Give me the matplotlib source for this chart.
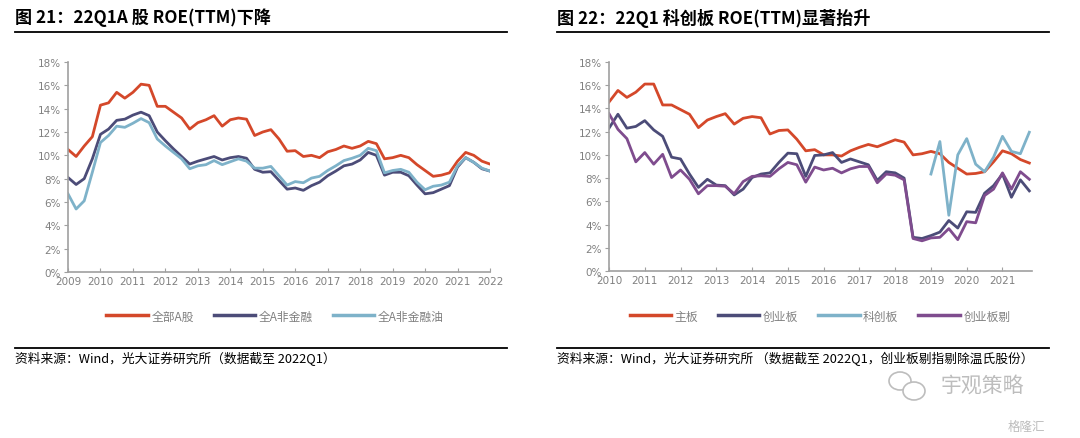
import matplotlib
matplotlib.use('Agg')
import matplotlib.pyplot as plt
from matplotlib.lines import Line2D
from matplotlib.patches import Ellipse
from matplotlib.ticker import FuncFormatter

plt.rcParams['font.family'] = ['Noto Sans CJK SC', 'DejaVu Sans']

# ---- data: chart 21, quarterly 2009Q1 - 2022Q1 ----
years_l = list(range(2009, 2023))
all_a = [10.5, 9.9, 10.8, 11.6, 14.3, 14.5, 15.4, 14.9, 15.4, 16.1, 16.0, 14.2, 14.2,
         13.7, 13.2, 12.25, 12.8, 13.05, 13.4, 12.5, 13.05, 13.2, 13.1, 11.7, 12.0,
         12.2, 11.4, 10.35, 10.4, 9.9, 10.0, 9.8, 10.3, 10.5, 10.8, 10.6, 10.8, 11.2,
         11.0, 9.7, 9.8, 10.0, 9.8, 9.2, 8.7, 8.2, 8.3, 8.5, 9.5, 10.25, 10.0, 9.5, 9.25]
non_fin = [8.1, 7.5, 8.0, 9.7, 11.8, 12.25, 13.0, 13.1, 13.45, 13.7, 13.4, 12.0, 11.25,
           10.55, 9.9, 9.25, 9.5, 9.7, 9.9, 9.6, 9.8, 9.9, 9.75, 8.8, 8.55, 8.6, 7.85,
           7.1, 7.2, 7.0, 7.4, 7.7, 8.25, 8.65, 9.1, 9.25, 9.6, 10.25, 10.0, 8.3, 8.55,
           8.55, 8.25, 7.45, 6.7, 6.8, 7.1, 7.4, 9.0, 9.8, 9.4, 8.85, 8.65]
non_fin_oil = [6.7, 5.4, 6.1, 8.55, 11.1, 11.7, 12.5, 12.4, 12.75, 13.15, 12.8, 11.4,
               10.8, 10.25, 9.7, 8.85, 9.1, 9.2, 9.55, 9.2, 9.45, 9.7, 9.5, 8.9, 8.9,
               9.05, 8.25, 7.45, 7.75, 7.65, 8.05, 8.2, 8.7, 9.1, 9.55, 9.75, 10.0, 10.6,
               10.4, 8.5, 8.7, 8.8, 8.55, 7.7, 7.05, 7.35, 7.45, 7.7, 9.1, 9.8, 9.4, 8.9, 8.65]

# ---- data: chart 22, quarterly 2010Q1 - 2021Q4 ----
years_r = list(range(2010, 2022))
main_board = [14.55, 15.55, 14.95, 15.4, 16.1, 16.1, 14.3, 14.3, 13.9, 13.5, 12.35, 13.0,
              13.3, 13.55, 12.65, 13.15, 13.3, 13.2, 11.8, 12.1, 12.15, 11.35, 10.35, 10.45,
              10.0, 10.0, 9.9, 10.35, 10.65, 10.9, 10.7, 11.0, 11.3, 11.1, 10.0, 10.1,
              10.3, 10.1, 9.35, 8.85, 8.35, 8.4, 8.55, 9.4, 10.35, 10.1, 9.6, 9.3]
gem = [12.3, 13.5, 12.3, 12.45, 12.95, 12.15, 11.6, 9.8, 9.65, 8.35, 7.2, 7.9, 7.4, 7.35,
       6.55, 7.05, 8.05, 8.35, 8.45, 9.35, 10.15, 10.1, 8.15, 9.95, 10.0, 10.2, 9.35, 9.65,
       9.4, 9.15, 7.8, 8.55, 8.45, 8.0, 2.9, 2.8, 3.05, 3.35, 4.35, 3.7, 5.1, 5.05, 6.7,
       7.35, 8.35, 6.35, 7.85, 6.9]
star = [None] * 36 + [8.35, 11.15, 4.8, 10.0, 11.4, 9.2, 8.55, 9.8, 11.6, 10.3, 10.1, 11.95]
gem_ex = [13.55, 12.2, 11.4, 9.4, 10.2, 9.2, 10.05, 8.05, 8.7, 7.9, 6.65, 7.35, 7.35, 7.3,
          6.65, 7.7, 8.15, 8.2, 8.15, 8.8, 9.35, 9.15, 7.65, 8.95, 8.7, 8.85, 8.45, 8.8,
          9.0, 9.0, 7.6, 8.35, 8.25, 7.85, 2.8, 2.6, 2.85, 2.9, 3.65, 2.7, 4.25, 4.15, 6.5,
          7.05, 8.45, 7.05, 8.55, 7.9]

RED = '#D4482A'
NAVY = '#4C4C78'
LIGHT = '#7EB2C9'
PURPLE = '#7F4C8E'
GRAY = '#A0A0A0'
TXT = '#808080'

W, H = 1080, 439
fig = plt.figure(figsize=(W / 100, H / 100), dpi=100)


def px_axes(x0, x1, ytop, ybot):
    return fig.add_axes([x0 / W, 1 - ybot / H, (x1 - x0) / W, (ybot - ytop) / H])


def style(ax, years, xmax):
    ax.set_ylim(0, 18)
    ax.set_yticks(range(0, 19, 2))
    ax.yaxis.set_major_formatter(FuncFormatter(lambda v, p: f'{int(v)}%'))
    ax.set_xlim(0, xmax)
    ax.set_xticks([4 * k for k in range(len(years))])
    ax.set_xticklabels([str(y) for y in years])
    for s in ['top', 'right']:
        ax.spines[s].set_visible(False)
    for s in ['left', 'bottom']:
        ax.spines[s].set_color(GRAY)
        ax.spines[s].set_linewidth(1.2)
    ax.tick_params(axis='y', colors=GRAY, labelcolor=TXT, labelsize=7.5, length=3, pad=2)
    ax.tick_params(axis='x', colors=GRAY, labelcolor=TXT, labelsize=7.5, length=3,
                   direction='in', pad=3)
    for lab in ax.get_xticklabels() + ax.get_yticklabels():
        lab.set_family(['Liberation Sans Narrow', 'DejaVu Sans'])


lw = 2.0

# left chart
ax1 = px_axes(68, 490, 63, 273)
x_l = list(range(len(all_a)))
ax1.plot(x_l, all_a, color=RED, lw=lw, label='全部A股')
ax1.plot(x_l, non_fin, color=NAVY, lw=lw, label='全A非金融')
ax1.plot(x_l, non_fin_oil, color=LIGHT, lw=lw, label='全A非金融油')
style(ax1, years_l, len(all_a) - 1)

# right chart
ax2 = px_axes(609, 1032, 63, 272)
x_r = list(range(len(main_board)))
ax2.plot(x_r, main_board, color=RED, lw=lw, label='主板')
ax2.plot(x_r, gem, color=NAVY, lw=lw, label='创业板')
ax2.plot(x_r, [float('nan') if v is None else v for v in star], color=LIGHT, lw=lw, label='科创板')
ax2.plot(x_r, gem_ex, color=PURPLE, lw=lw, label='创业板剔')
style(ax2, years_r, 47.3)

for ax, cx in [(ax1, 275), (ax2, 820)]:
    leg = ax.legend(loc='center', bbox_to_anchor=(cx / W, 1 - 317 / H),
                    bbox_transform=fig.transFigure, ncol=4, frameon=False,
                    fontsize=8.5, handlelength=3.5, handletextpad=0.3, columnspacing=1.7)
    for t in leg.get_texts():
        t.set_color(TXT)
    for h in leg.get_lines():
        h.set_linewidth(2.5)

# titles, rules and source notes
fig.text(15 / W, 1 - 18 / H, '图 21：22Q1A 股 ROE(TTM)下降', fontsize=12.3,
         fontweight='bold', va='center', ha='left')
fig.text(557 / W, 1 - 18 / H, '图 22：22Q1 科创板 ROE(TTM)显著抬升', fontsize=12.3,
         fontweight='bold', va='center', ha='left')
for x0, x1 in [(15, 507), (557, 1049)]:
    for yy in (33, 349):
        fig.add_artist(Line2D([x0 / W, x1 / W], [1 - yy / H, 1 - yy / H],
                              color='black', lw=1.3, transform=fig.transFigure))
fig.text(15 / W, 1 - 359 / H, '资料来源：Wind，光大证券研究所（数据截至 2022Q1）',
         fontsize=9.2, va='center', ha='left')
fig.text(557 / W, 1 - 359 / H,
         '资料来源：Wind，光大证券研究所 （数据截至 2022Q1，创业板剔指剔除温氏股份）',
         fontsize=9.2, va='center', ha='left')

# watermark
wm = '#BDBDBD'
fig.add_artist(Ellipse((900 / W, 1 - 382 / H), 22 / W, 18 / H, fill=False,
                       ec=wm, lw=1.2, transform=fig.transFigure))
fig.add_artist(Ellipse((914 / W, 1 - 392 / H), 22 / W, 18 / H, fill=True, fc='white',
                       ec=wm, lw=1.2, transform=fig.transFigure))
fig.text(940 / W, 1 - 386 / H, '宇观策略', fontsize=15, color=wm, va='center', ha='left')
fig.text(1008 / W, 1 - 427 / H, '格隆汇', fontsize=9, color=wm, va='center', ha='left')

fig.savefig('out.png', dpi=100)
